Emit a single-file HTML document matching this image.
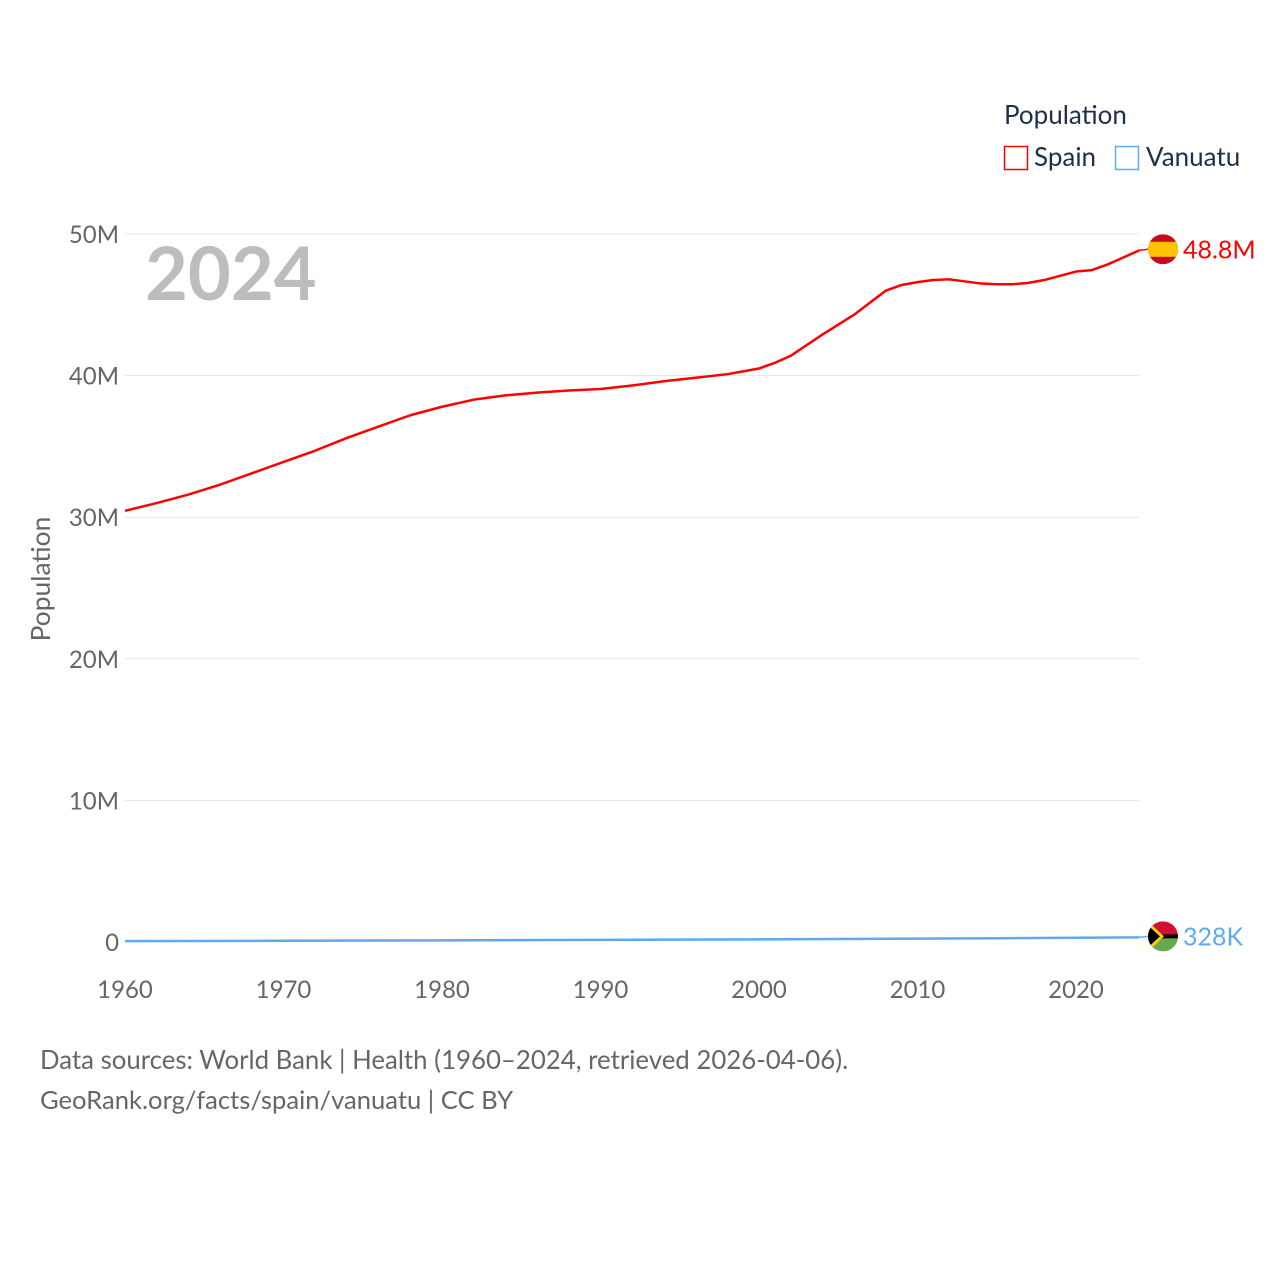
<!DOCTYPE html>
<html><head><meta charset="utf-8">
<style>
body{margin:0;background:#fff;}
svg{display:block;font-family:"Lato","Liberation Sans",sans-serif;}
</style></head>
<body>
<svg id="chart" width="1280" height="1280" viewBox="0 0 1280 1280">
<g id="grid"></g>
<g id="yticks"></g>
<g id="xticks"></g>
<text x="145" y="300" font-size="74" font-weight="bold" fill="#bdbdbd">2024</text>
<text transform="translate(50,579) rotate(-90)" text-anchor="middle" font-size="26.4" fill="#666">Population</text>
<g>
<text x="1004" y="124" font-size="26" fill="#1d2f4f">Population</text>
<g>
<rect x="1004.5" y="146.5" width="23" height="23" fill="none" stroke="#ff0000" stroke-width="1.5"/>
<text x="1034" y="166" font-size="26" fill="#1d2f4f">Spain</text></g>
<g>
<rect x="1115.5" y="146.5" width="23" height="23" fill="none" stroke="#5ea9f0" stroke-width="1.5"/>
<text x="1146" y="166" font-size="26" fill="#1d2f4f">Vanuatu</text></g>
</g>
<g id="series"></g>
<text x="40" y="1069" font-size="25.8" fill="#666">Data sources: World Bank | Health (1960–2024, retrieved 2026-04-06).</text>
<text x="40" y="1109" font-size="25.6" fill="#666">GeoRank.org/facts/spain/vanuatu | CC BY</text>
</svg>
<script>
const years=[1960,1962,1964,1966,1968,1970,1972,1974,1976,1978,1980,1982,1984,1986,1988,1990,1992,1994,1996,1998,2000,2001,2002,2004,2006,2008,2009,2010,2011,2012,2013,2014,2015,2016,2017,2018,2019,2020,2021,2022,2023,2024];
const spain=[30.45,31.0,31.6,32.3,33.1,33.9,34.7,35.6,36.4,37.2,37.8,38.3,38.6,38.8,38.95,39.05,39.3,39.6,39.85,40.1,40.5,40.9,41.4,42.9,44.3,46.0,46.4,46.6,46.75,46.8,46.65,46.5,46.45,46.45,46.55,46.75,47.05,47.35,47.45,47.85,48.35,48.85];
const vanYears=[1960,1970,1980,1990,2000,2010,2020,2024];
const vanuatu=[0.064,0.085,0.117,0.147,0.185,0.237,0.300,0.328];
const yTicks=[0,10,20,30,40,50];
const yTickLabels=["0","10M","20M","30M","40M","50M"];
const xTicks=[1960,1970,1980,1990,2000,2010,2020];
const endLabels=["48.8M","328K"];
const NS="http://www.w3.org/2000/svg";
const X=y=>125+(y-1960)*(1076-125)/60;
const Y=v=>942-v*(942-234)/50;
function el(t,a,p){const e=document.createElementNS(NS,t);for(const k in a)e.setAttribute(k,a[k]);p.appendChild(e);return e;}
const grid=document.getElementById('grid'),yt=document.getElementById('yticks'),xt=document.getElementById('xticks'),ser=document.getElementById('series');
yTicks.forEach((v,i)=>{
 if(v>0){const l=el('line',{x1:125,x2:1139,y1:Y(v),y2:Y(v),stroke:'#e6e6e6','stroke-width':1},grid);
 
 }
 const t=el('text',{x:119,y:Y(v)+9,'text-anchor':'end','font-size':24,fill:'#666'},yt);t.textContent=yTickLabels[i];
 
 
});
xTicks.forEach(v=>{
 const t=el('text',{x:X(v),y:998,'text-anchor':'middle','font-size':24,fill:'#666'},xt);t.textContent=v;
 
 
});
function line(xs,vs,color,name){
 const p=el('polyline',{points:xs.map((y,i)=>X(y)+','+Y(vs[i])).join(' '),fill:'none',stroke:color,'stroke-width':2.5,'stroke-linejoin':'round'},ser);
 
 
}
line(years,spain,'#ff0000','spain-line');
line(vanYears,vanuatu,'#5ea9f0','vanuatu-line');
function endMark(v,color,label,flag,name){
 const yy=Y(v)-1;
 const g=el('g',{},ser);
 
 
 el('line',{x1:X(2024),x2:1148,y1:Y(v),y2:yy,stroke:color,'stroke-width':1.5},g);
 const cx=1163,r=15;
 const cp=el('clipPath',{id:'c'+flag},g);el('circle',{cx:cx,cy:yy,r:r},cp);
 const f=el('g',{'clip-path':'url(#c'+flag+')'},g);
 if(flag==='es'){
  el('rect',{x:cx-r,y:yy-r,width:2*r,height:2*r,fill:'#c60b1e'},f);
  el('rect',{x:cx-r,y:yy-r/2,width:2*r,height:r,fill:'#ffc400'},f);
 }else{
  el('rect',{x:cx-r,y:yy-r,width:2*r,height:r,fill:'#d21034'},f);
  el('rect',{x:cx-r,y:yy,width:2*r,height:r,fill:'#6aa84f'},f);
  el('rect',{x:cx-r,y:yy-2,width:2*r,height:4,fill:'#000'},f);
  el('polygon',{points:(cx-r)+','+(yy-r)+' '+(cx+1)+','+yy+' '+(cx-r)+','+(yy+r),fill:'#fdce12'},f);
  el('polygon',{points:(cx-r)+','+(yy-r+4)+' '+(cx-3)+','+yy+' '+(cx-r)+','+(yy+r-4),fill:'#000'},f);
 }
 const t=el('text',{x:1183,y:yy+9,'font-size':25,fill:color},g);t.textContent=label;
}
endMark(spain[spain.length-1],'#ff0000',endLabels[0],'es','spain-end-label');
endMark(vanuatu[vanuatu.length-1],'#5ea9f0',endLabels[1],'vu','vanuatu-end-label');
</script>
</body></html>
